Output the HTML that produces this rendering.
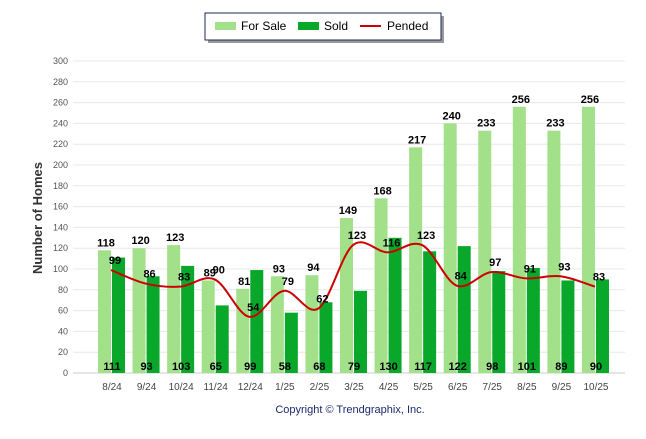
<!DOCTYPE html>
<html><head><meta charset="utf-8"><style>
body{margin:0;background:#fff;font-family:"Liberation Sans",Arial,sans-serif}
svg text{font-family:"Liberation Sans",Arial,sans-serif}
</style></head><body>
<svg id="c" width="646" height="434" xmlns="http://www.w3.org/2000/svg">
<rect x="208" y="16" width="236" height="27" fill="#999"/>
<rect x="205" y="13" width="236" height="27" fill="#fff" stroke="#1f2a5a" stroke-width="1"/>
<rect x="215" y="22" width="21" height="8" fill="#a2e08a"/>
<text x="241" y="30" font-size="12" fill="#000">For Sale</text>
<rect x="298" y="22" width="21" height="8" fill="#0aa82a"/>
<text x="324" y="30" font-size="12" fill="#000">Sold</text>
<line x1="360" y1="26" x2="381" y2="26" stroke="#c00" stroke-width="2"/>
<text x="387" y="30" font-size="12" fill="#000">Pended</text>
<text transform="translate(42,218) rotate(-90)" text-anchor="middle" font-size="13" font-weight="bold" fill="#333">Number of Homes</text>
<text x="350" y="413" text-anchor="middle" font-size="11" fill="#1a2a6a">Copyright © Trendgraphix, Inc.</text>
<g id="g"></g>
</svg>
<script>
const categories=["8/24","9/24","10/24","11/24","12/24","1/25","2/25","3/25","4/25","5/25","6/25","7/25","8/25","9/25","10/25"];
const forSale=[118,120,123,89,81,93,94,149,168,217,240,233,256,233,256];
const sold=[111,93,103,65,99,58,68,79,130,117,122,98,101,89,90];
const pended=[99,86,83,90,54,79,62,123,116,123,84,97,91,93,83];
const yTicks=[0,20,40,60,80,100,120,140,160,180,200,220,240,260,280,300];
const NS="http://www.w3.org/2000/svg";
const g=document.getElementById('g');
const y=v=>373-v*(312/300);
const x=i=>111+i*34.57;
function mk(t,a){const e=document.createElementNS(NS,t);for(const k in a)e.setAttribute(k,a[k]);g.appendChild(e);return e;}
yTicks.forEach(v=>{
 const l=mk('line',{x1:73,x2:625,y1:y(v),y2:y(v),stroke:v===0?'#ccc':'#e8e8e8'});
 
 
 const t=mk('text',{x:68,y:y(v)+3,'text-anchor':'end','font-size':9,fill:'#555'});t.textContent=v;
 
 
});
categories.forEach((c,i)=>{
 const fx=x(i)-13,sx=x(i)+1;
 const b1=mk('rect',{x:fx,y:y(forSale[i]),width:13,height:373-y(forSale[i]),fill:'#a2e08a'});
 
 
 const b2=mk('rect',{x:sx,y:y(sold[i]),width:13,height:373-y(sold[i]),fill:'#0aa82a'});
 
 
 const t=mk('text',{x:x(i)+1,y:390,'text-anchor':'middle','font-size':10,fill:'#444'});t.textContent=c;
 
 
 const t1=mk('text',{x:x(i)-5,y:y(forSale[i])-4,'text-anchor':'middle','font-size':11,'font-weight':'bold',fill:'#000'});t1.textContent=forSale[i];
 
 
 const t2=mk('text',{x:x(i)+1,y:370,'text-anchor':'middle','font-size':11,'font-weight':'bold',fill:'#000'});t2.textContent=sold[i];
 
 
});
let d='M'+x(0)+','+y(pended[0]);
for(let i=0;i<pended.length-1;i++){
 const p0=[x(Math.max(i-1,0)),y(pended[Math.max(i-1,0)])],p1=[x(i),y(pended[i])],p2=[x(i+1),y(pended[i+1])],p3=[x(Math.min(i+2,pended.length-1)),y(pended[Math.min(i+2,pended.length-1)])];
 const c1=[p1[0]+(p2[0]-p0[0])/6,p1[1]+(p2[1]-p0[1])/6],c2=[p2[0]-(p3[0]-p1[0])/6,p2[1]-(p3[1]-p1[1])/6];
 d+=' C'+c1+' '+c2+' '+p2;
}
const ln=mk('path',{d:d,fill:'none',stroke:'#c00',"stroke-width":2});


pended.forEach((v,i)=>{
 const t=mk('text',{x:x(i)+4,y:y(v)-6,'text-anchor':'middle','font-size':11,'font-weight':'bold',fill:'#000'});t.textContent=v;
 
 
});
</script>
</body></html>
